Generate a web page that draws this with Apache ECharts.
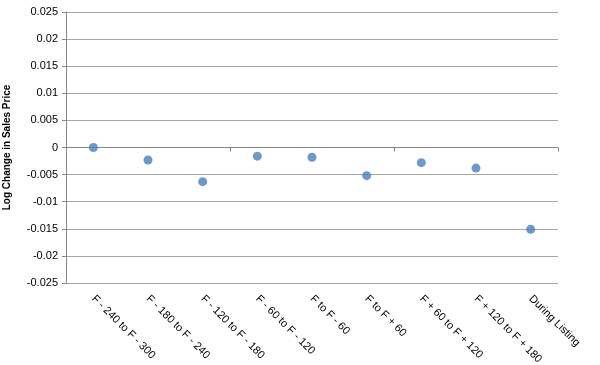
<!DOCTYPE html>
<html>
<head>
<meta charset="utf-8">
<script src="https://cdn.jsdelivr.net/npm/echarts@6/dist/echarts.min.js"></script>
<style>
  html, body { margin: 0; padding: 0; background: #fff; }
  #chart { width: 600px; height: 365px; }
</style>
</head>
<body>
<div id="chart"></div>
<script>
var categories = ['F - 240 to F - 300', 'F - 180 to F - 240', 'F - 120 to F - 180', 'F - 60 to F - 120',
    'F to F - 60', 'F to F + 60', 'F + 60 to F + 120', 'F + 120 to F + 180', 'During Listing'];
var logChange = [0, -0.0023, -0.0063, -0.0016, -0.0018, -0.0052, -0.0028, -0.0038, -0.0151];

var myChart = echarts.init(document.getElementById('chart'));
var font = 'Liberation Sans';
var option = {
    animation: false,
    grid: {
        left: 66,
        right: 42,
        top: 12,
        bottom: 82,
        outerBoundsMode: 'none'
    },
    xAxis: [{
        // line + ticks sitting on zero
        type: 'category',
        data: categories,
        axisLine: { onZero: true, lineStyle: { color: '#868686', width: 1 } },
        axisTick: { show: true, length: 4, lineStyle: { color: '#868686' } },
        axisLabel: { show: false },
        splitLine: { show: false }
    }, {
        // labels at the bottom of the plot
        type: 'category',
        data: categories,
        position: 'bottom',
        axisLine: { show: false, onZero: false },
        axisTick: { show: false },
        axisLabel: {
            interval: 0,
            rotate: -45,
            margin: 14,
            fontFamily: font,
            fontSize: 11,
            color: '#000'
        },
        splitLine: { show: false }
    }],
    yAxis: {
        type: 'value',
        min: -0.025,
        max: 0.025,
        interval: 0.005,
        name: 'Log Change in Sales Price',
        nameLocation: 'middle',
        nameGap: 54,
        nameTextStyle: { fontFamily: font, fontSize: 10, fontWeight: 'bold', color: '#000' },
        axisLine: { show: true, lineStyle: { color: '#868686' } },
        axisTick: { show: true, length: 4, lineStyle: { color: '#868686' } },
        axisLabel: {
            margin: 8,
            fontFamily: font,
            fontSize: 11,
            color: '#000',
            formatter: function (v) { return String(Math.round(v * 1000) / 1000); }
        },
        splitLine: { lineStyle: { color: '#a6a6a6', width: 1 } }
    },
    series: [{
        type: 'scatter',
        xAxisIndex: 0,
        data: logChange,
        symbolSize: 9,
        itemStyle: { color: '#4a7ebb' }
    }]
};
myChart.setOption(option);
</script>
</body>
</html>
